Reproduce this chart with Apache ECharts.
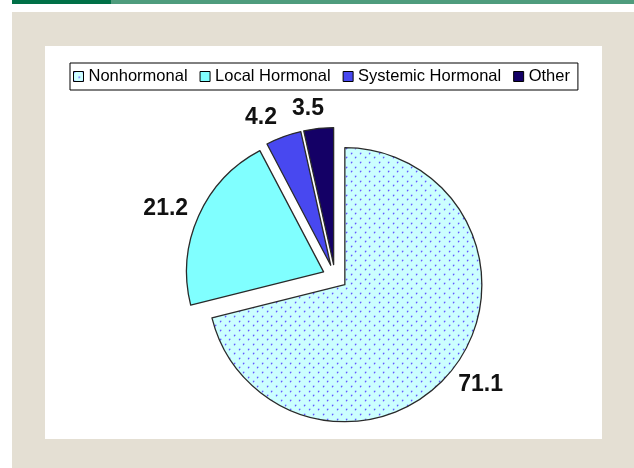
<!DOCTYPE html>
<html>
<head>
<meta charset="utf-8">
<script src="https://cdn.jsdelivr.net/npm/echarts@6/dist/echarts.min.js"></script>
<style>
html,body{margin:0;padding:0;width:634px;height:468px;overflow:hidden;background:#ffffff;}
#bar1{position:absolute;left:12px;top:0;width:99px;height:4px;background:#007047;}
#bar2{position:absolute;left:111px;top:0;width:523px;height:4px;background:#4f9c7d;}
#frame{position:absolute;left:12px;top:12px;width:622px;height:456px;background:#e4dfd3;}
#panel{position:absolute;left:45px;top:46px;width:557px;height:393px;background:#ffffff;}
#chart{position:absolute;left:0;top:0;width:634px;height:468px;}
</style>
</head>
<body>
<div id="bar1"></div>
<div id="bar2"></div>
<div id="frame"></div>
<div id="panel"></div>
<div id="chart"></div>
<script>
// ---- data ----
const categories = ['Nonhormonal', 'Local Hormonal', 'Systemic Hormonal', 'Other'];
const values = [71.1, 21.2, 4.2, 3.5];

// ---- styles ----
const sliceColors = [null, '#80ffff', '#4848f0', '#140066'];
// [radial length, horizontal length] for label placement per slice
const labelLineLengths = [[25.8, -20], [18, -11], [20.5, -5.6], [19.5, -12.6]];

function dotPattern() {
  const c = document.createElement('canvas');
  c.width = 28; c.height = 28;
  const g = c.getContext('2d');
  g.fillStyle = '#ccffff';
  g.fillRect(0, 0, 28, 28);
  const dot = (x, y) => {
    g.fillStyle = '#9a9aff';
    g.fillRect(x + 1, y, 1, 1);
    g.fillRect(x, y + 1, 1, 1);
    g.fillStyle = '#3a3aff';
    g.fillRect(x, y, 1, 1);
  };
  for (let i = 0; i < 3; i++) {
    for (let j = 0; j < 3; j++) {
      dot(Math.round(i * 28 / 3), Math.round(j * 28 / 3));
      dot(Math.round(i * 28 / 3 + 14 / 3), Math.round(j * 28 / 3 + 14 / 3));
    }
  }
  return c;
}
sliceColors[0] = { image: dotPattern(), repeat: 'repeat' };

const FONT = '"Liberation Sans", Arial, Helvetica, sans-serif';

const chart = echarts.init(document.getElementById('chart'), null, { renderer: 'canvas' });
chart.setOption({
  animation: false,
  backgroundColor: 'transparent',
  legend: {
    data: categories,
    left: 70,
    top: 63,
    orient: 'horizontal',
    icon: 'rect',
    itemWidth: 10,
    itemHeight: 10,
    itemGap: 12,
    padding: [5, 8, 5, 3],
    borderColor: '#000000',
    borderWidth: 1,
    backgroundColor: '#ffffff',
    selectedMode: false,
    textStyle: { fontFamily: FONT, fontSize: 16.5, color: '#000000', padding: [0, 0, 0, 0] },
    itemStyle: { borderColor: '#000000', borderWidth: 1 }
  },
  series: [{
    type: 'pie',
    center: [335, 277],
    radius: 137,
    startAngle: 90,
    clockwise: true,
    selectedMode: 'multiple',
    selectedOffset: 12.5,
    avoidLabelOverlap: false,
    label: {
      show: true,
      position: 'outside',
      formatter: '{c}',
      fontFamily: FONT,
      fontSize: 23,
      fontWeight: 'bold',
      color: '#111111'
    },
    labelLine: { show: false },
    itemStyle: { borderColor: '#2a2a2a', borderWidth: 1.3 },
    select: { itemStyle: { borderColor: '#2a2a2a', borderWidth: 1.3 } },
    emphasis: { disabled: true },
    data: categories.map((name, i) => ({
      name: name,
      value: values[i],
      selected: true,
      itemStyle: { color: sliceColors[i] },
      labelLine: { show: false, length: labelLineLengths[i][0], length2: labelLineLengths[i][1] }
    }))
  }]
});
</script>
</body>
</html>
